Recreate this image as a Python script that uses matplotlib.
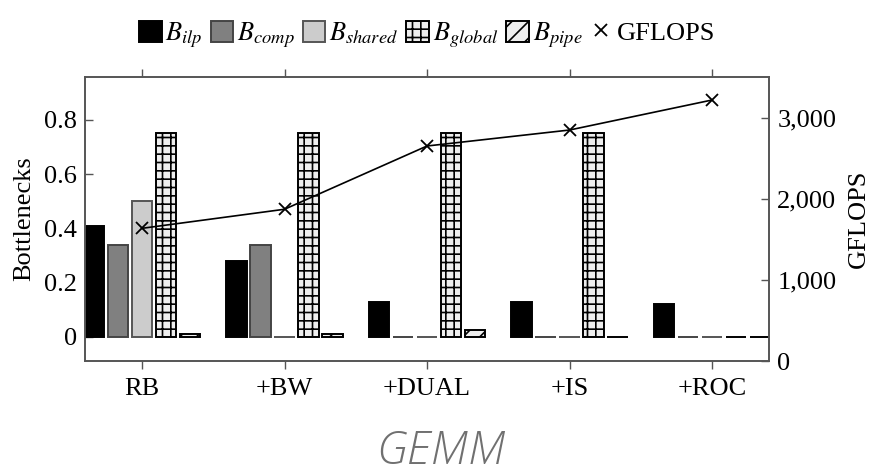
import matplotlib
matplotlib.use("Agg")
import matplotlib.pyplot as plt
import numpy as np
from matplotlib.ticker import FuncFormatter
from matplotlib.lines import Line2D
from matplotlib.patches import Patch

plt.rcParams['font.family'] = ['Liberation Serif', 'DejaVu Serif']
plt.rcParams['mathtext.fontset'] = 'stix'
plt.rcParams['hatch.linewidth'] = 1.2

categories = ["RB", "+BW", "+DUAL", "+IS", "+ROC"]
b_ilp = [0.41, 0.28, 0.13, 0.13, 0.12]
b_comp = [0.34, 0.34, 0.0, 0.0, 0.0]
b_shared = [0.50, 0.0, 0.0, 0.0, 0.0]
b_global = [0.75, 0.75, 0.75, 0.75, 0.0]
b_pipe = [0.01, 0.01, 0.025, 0.0, 0.0]
gflops = [1636, 1871, 2651, 2848, 3218]

series = [
    (r"$B_{ilp}$", b_ilp, dict(facecolor="black", edgecolor="black", hatch=None)),
    (r"$B_{comp}$", b_comp, dict(facecolor="#808080", edgecolor="#444444", hatch=None)),
    (r"$B_{shared}$", b_shared, dict(facecolor="#cccccc", edgecolor="#555555", hatch=None)),
    (r"$B_{global}$", b_global, dict(facecolor="#eeeeee", edgecolor="black", hatch="++")),
    (r"$B_{pipe}$", b_pipe, dict(facecolor="#eeeeee", edgecolor="black", hatch="//")),
]

fig = plt.figure(figsize=(8.71, 4.74), dpi=100)
ax = fig.add_axes([85/871, 1-361/474, (769-85)/871, (361-76.5)/474])
ax2 = ax.twinx()

x = np.arange(len(categories))
step = 0.169
width = 0.144
handles = []
for i, (lab, vals, st) in enumerate(series):
    off = (i - 2) * step
    ax.bar(x + off, vals, width=width, facecolor=st["facecolor"], edgecolor=st["edgecolor"],
           hatch=st["hatch"], linewidth=1.4, zorder=2)
    handles.append(Patch(facecolor=st["facecolor"], edgecolor=st["edgecolor"], hatch=st["hatch"],
                         linewidth=1.4, label=lab))

ax2.plot(x, gflops, color="black", linewidth=1.2, marker="x", markersize=8, markeredgewidth=1.3, zorder=3)
handles.append(Line2D([], [], color="black", linestyle="none", marker="x", markersize=8,
                      markeredgewidth=1.3, label="GFLOPS"))

ax.set_xlim(-0.4, 4.4)
ax.set_ylim(-0.0885, 0.96)
ax2.set_ylim(0, 3508)
ax.set_xticks(x)
ax.set_xticklabels(categories, fontsize=19)
ax.set_yticks([0, 0.2, 0.4, 0.6, 0.8])
ax.yaxis.set_major_formatter(FuncFormatter(lambda v, p: "0" if abs(v) < 1e-9 else f"{v:.1f}"))
ax2.set_yticks([0, 1000, 2000, 3000])
ax2.yaxis.set_major_formatter(FuncFormatter(lambda v, p: f"{v:,.0f}"))

spine_c = "#555555"
for a in (ax, ax2):
    for s in a.spines.values():
        s.set_color(spine_c)
        s.set_linewidth(1.2)
ax.tick_params(axis="y", direction="in", length=6, width=1.0, color=spine_c, labelsize=19, pad=6)
ax2.tick_params(axis="y", direction="in", length=6, width=1.0, color=spine_c, labelsize=19, pad=6)
ax.tick_params(axis="x", direction="out", length=6, width=1.0, color=spine_c, labelsize=19,
               top=True, labeltop=False, pad=6)

ax.set_ylabel("Bottlenecks", fontsize=19, labelpad=6)
ax2.set_ylabel("GFLOPS", fontsize=19, labelpad=8)

fig.legend(handles=handles, loc="center", bbox_to_anchor=(427/871, 1-35/474), ncol=6,
           frameon=False, fontsize=19, handlelength=0.85, handleheight=0.85,
           handletextpad=0.15, columnspacing=0.3, borderaxespad=0)

fig.text(441/871, 1-452/474, "GEMM", ha="center", va="center", fontsize=33, style="italic",
         color="#707070", family=["Open Sans", "DejaVu Sans"], weight="light")

fig.savefig("out.png", dpi=100)
